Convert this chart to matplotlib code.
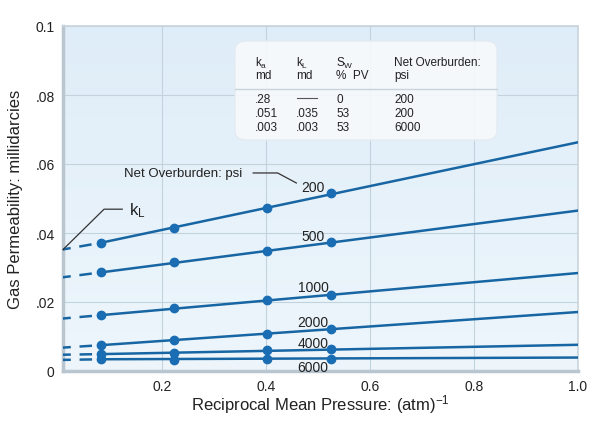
import numpy as np
import matplotlib
matplotlib.use("Agg")
from matplotlib import pyplot as plt
from matplotlib.patches import FancyBboxPatch
from matplotlib.colors import LinearSegmentedColormap

plt.rcParams['font.family'] = ['Liberation Sans', 'DejaVu Sans']
plt.rcParams['mathtext.fontset'] = 'custom'
plt.rcParams['mathtext.rm'] = 'Liberation Sans'
plt.rcParams['mathtext.it'] = 'Liberation Sans'

# data
recip_pressure = [0.083, 0.222, 0.402, 0.524]
overburden = ["200", "500", "1000", "2000", "4000", "6000"]
k_liquid = [0.0350, 0.0270, 0.0151, 0.0067, 0.0047, 0.0032]   # extrapolated value at 1/p = 0
k_gas = [
    [0.0372, 0.0414, 0.0472, 0.0515],
    [0.0286, 0.0315, 0.0349, 0.0375],
    [0.0162, 0.0183, 0.0207, 0.0221],
    [0.0075, 0.0090, 0.0108, 0.0123],
    [0.0049, 0.0051, 0.0062, 0.0063],
    [0.0034, 0.0031, 0.0034, 0.0034],
]
k_at_one = [0.0663, 0.0465, 0.0284, 0.0171, 0.0076, 0.0039]   # line value at 1/p = 1.0
label_y = [0.0533, 0.0392, 0.0243, 0.0143, 0.0081, 0.0012]

table_head = [["k$_\\mathrm{a}$", "k$_\\mathrm{L}$", "S$_\\mathrm{W}$", "Net Overburden:"],
              ["md", "md", "%  PV", "psi"]]
table_rows = [[".28", "", "0", "200"],
              [".051", ".035", "53", "200"],
              [".003", ".003", "53", "6000"]]

W, H = 600, 431
fig = plt.figure(figsize=(6, 4.31), dpi=100)
ax = fig.add_axes([63 / W, 1 - 372 / H, (578 - 63) / W, (372 - 27) / H])

x0, x1 = 0.009, 1.0
ax.set_xlim(x0, x1)
ax.set_ylim(0, 0.1)

# gradient background
grad = np.linspace(0, 1, 256).reshape(-1, 1)
cm = LinearSegmentedColormap.from_list("bg", ["#eef6fc", "#dfedf8"])
ax.imshow(grad, cmap=cm, aspect='auto', extent=[x0, x1, 0, 0.1], origin='lower', zorder=0)

ax.set_xticks([0.2, 0.4, 0.6, 0.8, 1.0])
ax.set_xticklabels(["0.2", "0.4", "0.6", "0.8", "1.0"])
ax.set_yticks([0, 0.02, 0.04, 0.06, 0.08, 0.1])
ax.set_yticklabels(["0", ".02", ".04", ".06", ".08", "0.1"])
ax.tick_params(length=0, labelsize=10, colors="#222222", pad=6)
ax.grid(True, color="#c3d3de", linewidth=0.8, zorder=1)
for side in ["left", "bottom"]:
    ax.spines[side].set_color("#b9c6cf")
    ax.spines[side].set_linewidth(2.5)
for side in ["top", "right"]:
    ax.spines[side].set_color("#c9d4dc")
    ax.spines[side].set_linewidth(1.2)

line_col = "#1766a3"
dot_col = "#1a6db3"
for i in range(len(overburden)):
    xs = recip_pressure
    ys = k_gas[i]
    ax.plot([0, xs[0]], [k_liquid[i], ys[0]], color=line_col, lw=1.8,
            dashes=(5, 3.5), zorder=3, clip_on=True)
    ax.plot([xs[0], 1.0], [ys[0], k_at_one[i]], color=line_col, lw=1.8, zorder=3)
    ax.plot(xs, ys, 'o', color=dot_col, ms=6, zorder=4)
    ax.text(0.49, label_y[i], overburden[i], fontsize=10, color="#222222",
            ha='center', va='center', zorder=5)

ax.set_xlabel("Reciprocal Mean Pressure: (atm)$^{-1}$", fontsize=12, color="#222222", labelpad=-1)
ax.set_ylabel("Gas Permeability: millidarcies", fontsize=12, color="#222222", labelpad=9)

# annotations
ax.text(0.127, 0.0574, "Net Overburden: psi", fontsize=9.5, color="#222222", va='center', zorder=5)
ax.plot([0.375, 0.422, 0.458], [0.0574, 0.0574, 0.0545], color="#333333", lw=0.9, zorder=5)
ax.plot([x0, 0.088, 0.123], [0.0352, 0.0469, 0.0469], color="#333333", lw=0.9, zorder=5, clip_on=False)
ax.text(0.136, 0.0469, "k$_\\mathrm{L}$", fontsize=12, color="#222222", va='center', zorder=5)

# table box
box = FancyBboxPatch((235 / W, 1 - 141 / H), (497 - 235) / W, (141 - 42) / H,
                     boxstyle="round,pad=0,rounding_size=0.02", transform=fig.transFigure,
                     facecolor="#f6f9fc", edgecolor="#e3ebf2", lw=1, alpha=0.92, zorder=6)
fig.add_artist(box)
col_x = [255, 296, 336, 394]
for r, yy in enumerate([63, 76]):
    for c, txt in enumerate(table_head[r]):
        fig.text(col_x[c] / W, 1 - yy / H, txt, fontsize=8.5, color="#222222",
                 va='center', ha='left', zorder=7)
fig.add_artist(plt.Line2D([235 / W, 497 / W], [1 - 89.5 / H, 1 - 89.5 / H],
                          transform=fig.transFigure, color="#c9d3dc", lw=1, zorder=7))
for r, yy in enumerate([100, 114, 128]):
    for c, txt in enumerate(table_rows[r]):
        fig.text(col_x[c] / W, 1 - yy / H, txt, fontsize=8.5, color="#222222",
                 va='center', ha='left', zorder=7)
fig.add_artist(plt.Line2D([297 / W, 317 / W], [1 - 99 / H, 1 - 99 / H],
                          transform=fig.transFigure, color="#555555", lw=0.8, zorder=7))

fig.savefig("out.png", dpi=100)
